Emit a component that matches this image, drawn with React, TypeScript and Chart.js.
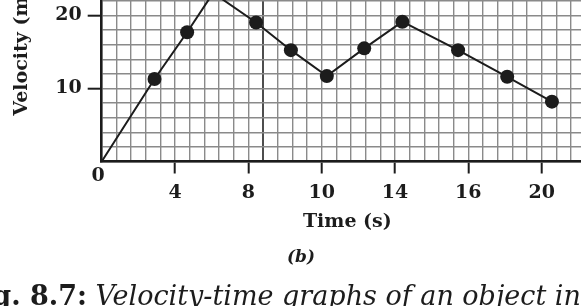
import React, { useEffect, useRef } from 'react';
import { Chart, registerables } from 'chart.js';

Chart.register(...registerables);

// ---------- data ----------
const xTickLabels = ['0', '4', '8', '10', '14', '16', '20'];
const yTickValues = [10, 20];
const yTickLabels = ['10', '20'];
// x positions are in axis-division units (one division = one labelled tick)
const timePos = [0, 0.72, 1.165, 1.52, 2.105, 2.58, 3.07, 3.58, 4.1, 4.86, 5.53, 6.14];
const velocity = [0, 11.3, 17.7, 23.1, 19.05, 15.25, 11.7, 15.5, 19.15, 15.25, 11.6, 8.2];
const hasMarker = [false, true, true, false, true, true, true, true, true, true, true, true];
const xTitle = 'Time (s)';
const yTitle = 'Velocity (m s⁻¹)';
const panelLabel = '(b)';
const captionPrefix = 'Fig.';
const captionNumber = '8.7:';
const captionText = 'Velocity-time graphs of an object in non-uniformly accelerated motion.';

// ---------- styling ----------
const INK = '#1c1c1c';
const GRID = '#8a8a8a';
const DARK_GRID = '#4e4e4e';
const SERIF = '"DejaVu Serif", serif';
const X_MAX = 6.7;
const X_STEP = 0.2;
const Y_MAX = 35;
const Y_STEP = 2;
const DARK_GRID_STEP = 11; // index of the darker vertical grid line (in minor steps)

const CANVAS_W = 601;
const CANVAS_H = 422;
const CANVAS_TOP = -112;
const PLOT_LEFT = 101.7;
const PLOT_TOP = 18;
const X_AXIS_H = 148.5;

const originLabel = {
  id: 'originLabel',
  afterDraw(chart: any) {
    const { ctx, scales } = chart;
    const x = scales.x;
    const y = scales.y;
    ctx.save();
    ctx.font = `bold 19px ${SERIF}`;
    ctx.fillStyle = INK;
    ctx.textAlign = 'center';
    ctx.textBaseline = 'middle';
    ctx.fillText(xTickLabels[0], x.getPixelForValue(0) - 3.5, y.getPixelForValue(0) + 15);
    ctx.restore();
  },
};

export default function App() {
  const ref = useRef<HTMLCanvasElement>(null);

  useEffect(() => {
    const canvas = ref.current;
    if (!canvas) return;
    const chart = new Chart(canvas, {
      type: 'line',
      data: {
        datasets: [
          {
            data: timePos.map((t, i) => ({ x: t, y: velocity[i] })),
            borderColor: INK,
            borderWidth: 2,
            pointRadius: hasMarker.map((m) => (m ? 7 : 0)),
            pointBackgroundColor: INK,
            pointBorderColor: INK,
            pointBorderWidth: 0,
            tension: 0,
            clip: false,
          },
        ],
      },
      options: {
        animation: false,
        responsive: false,
        devicePixelRatio: 1,
        layout: { padding: { top: PLOT_TOP, right: 0, left: 0, bottom: 0 } },
        plugins: { legend: { display: false }, tooltip: { enabled: false } },
        scales: {
          x: {
            type: 'linear',
            min: 0,
            max: X_MAX,
            afterFit: (s: any) => {
              s.height = X_AXIS_H;
            },
            border: { display: true, color: INK, width: 2.5 },
            grid: {
              color: (c: any) =>
                Math.round(c.tick?.value / X_STEP) === DARK_GRID_STEP ? DARK_GRID : GRID,
              lineWidth: (c: any) =>
                Math.round(c.tick?.value / X_STEP) === DARK_GRID_STEP ? 2 : 1.4,
              tickLength: 12,
              tickWidth: 2,
              tickColor: (c: any) => {
                const k = Math.round(c.tick?.value / X_STEP);
                return k > 0 && k % 5 === 0 ? INK : 'rgba(0,0,0,0)';
              },
            },
            ticks: {
              stepSize: X_STEP,
              maxTicksLimit: 1000,
              autoSkip: false,
              maxRotation: 0,
              minRotation: 0,
              padding: 8,
              color: INK,
              font: { family: SERIF, weight: 'bold', size: 19 },
              callback: (v: any) => {
                const k = Math.round(Number(v) / X_STEP);
                if (k <= 0 || k % 5 !== 0) return '';
                return xTickLabels[k / 5] ?? '';
              },
            },
            title: {
              display: true,
              text: xTitle,
              color: INK,
              font: { family: SERIF, weight: 'bold', size: 19 },
              padding: { top: 0, bottom: 76.6 },
            },
          },
          y: {
            type: 'linear',
            min: 0,
            max: Y_MAX,
            afterFit: (s: any) => {
              s.width = PLOT_LEFT;
            },
            border: { display: true, color: INK, width: 2.5 },
            grid: {
              color: GRID,
              lineWidth: 1.4,
              tickLength: 14,
              tickWidth: 2,
              tickColor: (c: any) =>
                yTickValues.includes(Math.round(c.tick?.value)) ? INK : 'rgba(0,0,0,0)',
            },
            ticks: {
              stepSize: Y_STEP,
              maxTicksLimit: 1000,
              autoSkip: false,
              padding: 6,
              color: INK,
              font: { family: SERIF, weight: 'bold', size: 19 },
              callback: (v: any) => {
                const i = yTickValues.indexOf(Math.round(Number(v)));
                return i >= 0 ? yTickLabels[i] : '';
              },
            },
            title: {
              display: true,
              text: yTitle,
              color: INK,
              font: { family: SERIF, weight: 'bold', size: 19 },
              padding: { top: 10.5, bottom: 0 },
            },
          },
        },
      },
      plugins: [originLabel],
    } as any);
    return () => chart.destroy();
  }, []);

  return (
    <div
      style={{
        position: 'fixed',
        left: 0,
        top: 0,
        width: 581,
        height: 306,
        overflow: 'hidden',
        background: '#fff',
      }}
    >
      <canvas
        ref={ref}
        width={CANVAS_W}
        height={CANVAS_H}
        style={{ position: 'absolute', left: 0, top: CANVAS_TOP, width: CANVAS_W, height: CANVAS_H }}
      />
      <div
        style={{
          position: 'absolute',
          left: 301,
          top: 256,
          transform: 'translate(-50%, -50%)',
          font: `italic bold 17px ${SERIF}`,
          color: INK,
          lineHeight: 1,
          whiteSpace: 'nowrap',
        }}
      >
        {panelLabel}
      </div>
      <div
        style={{
          position: 'absolute',
          left: 30,
          top: 282,
          fontFamily: SERIF,
          fontSize: 27,
          lineHeight: 1,
          whiteSpace: 'nowrap',
          color: INK,
        }}
      >
        <span style={{ position: 'absolute', right: '100%', fontWeight: 'bold' }}>
          {captionPrefix}&nbsp;
        </span>
        <b>{captionNumber}</b> <i>{captionText}</i>
      </div>
    </div>
  );
}
